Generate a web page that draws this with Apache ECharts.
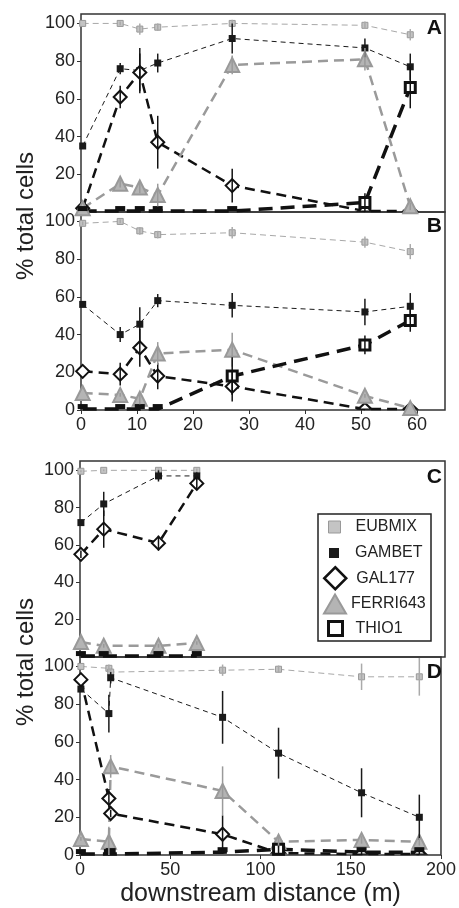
<!DOCTYPE html>
<html>
<head>
<meta charset="utf-8">
<script src="https://cdn.jsdelivr.net/npm/echarts@6/dist/echarts.min.js"></script>
<style>
  html, body { margin: 0; padding: 0; background: #fff; }
  #chart { width: 459px; height: 908px; }
</style>
</head>
<body>
<div id="chart"></div>
<script>
// probe names, same order in every panel
var probes = ['EUBMIX', 'GAMBET', 'GAL177', 'FERRI643', 'THIO1'];

// panel A
var aX = [0.3, 7, 10.5, 13.7, 27, 50.7, 58.8];
var aEub = [100, 100, 97, 98, 100, 99, 94];
var aEubErr = [0, 1, 3, 2, 2, 2, 3];
var aGam = [35, 76, 75, 79, 92, 87, 77];
var aGamErr = [0, 3, 12, 5, 8, 5, 7];
var aGal = [2, 61, 74, 37, 14, 0.5, 0.5];
var aGalErr = [0, 6, 10, 14, 9, 0, 0];
var aFer = [2, 15, 13, 9, 78, 81, 3];
var aFerErr = [0, 2, 3, 6, 5, 6, 2];
var aThi = [0.5, 0.5, 0.5, 0.5, 0.5, 5, 66];
var aThiErr = [0, 0, 0, 0, 0, 5, 11];

// panel B
var bX = [0.3, 7, 10.5, 13.7, 27, 50.7, 58.8];
var bEub = [99, 100, 95, 93, 94, 89, 84];
var bEubErr = [1, 1, 2, 2, 3, 3, 4];
var bGam = [56, 40, 45.5, 58, 55.5, 52, 55];
var bGamErr = [0, 4, 9, 3.5, 6.5, 7, 7];
var bGal = [20.5, 19, 33, 18, 12.5, 0.5, 0.5];
var bGalErr = [0, 6, 10, 7, 8, 0, 0];
var bFer = [9, 8, 6, 30, 32, 7.5, 1];
var bFerErr = [0, 1, 3, 6, 9, 1, 0];
var bThi = [0.5, 0.5, 0.5, 0.5, 18, 34.5, 47.5];
var bThiErr = [0, 0, 0, 0, 10, 5, 6];

// panel C
var cX = [0.5, 13, 43, 64];
var cEub = [99.5, 100, 100, 100];
var cEubErr = [0.5, 0.5, 1, 1];
var cGam = [72, 82, 97, 97];
var cGamErr = [0, 6.5, 3, 2];
var cGal = [55, 68.5, 61, 93];
var cGalErr = [2, 10, 4, 3];
var cFer = [8, 6, 6, 7.5];
var cFerErr = [0, 1, 1, 1];
var cThi = [0.5, 0.5, 0.5, 0.5];
var cThiErr = [0, 0, 0, 0];

// panel D
var dX = [0.5, 16, 17, 79, 110, 156, 188];
var dEub = [100, 99, 97, 98, 98.5, 94.5, 94.5];
var dEubErr = [0, 2, 1, 3, 2, 7, 10];
var dGam = [88, 75, 94, 73, 54, 33, 20];
var dGamErr = [0, 10, 3, 14, 13.5, 13, 12];
var dGal = [93, 30, 22, 11, 1, 0.5, 0.5];
var dGalErr = [0, 5, 2, 10, 0, 0, 0];
var dFer = [8.5, 7, 47, 34, 7, 8, 7];
var dFerErr = [1, 8, 6, 13, 3, 2, 2];
var dThi = [0.5, 0.5, 1, 1.5, 3, 1.5, 1.5];
var dThiErr = [0, 0, 0, 0, 2, 1, 1];

var yTicksFull = [0, 20, 40, 60, 80, 100];
var yTicksNoZero = [20, 40, 60, 80, 100];
var xTicksAB = [0, 10, 20, 30, 40, 50, 60];
var xTicksCD = [0, 50, 100, 150, 200];

var FONT = "'Liberation Sans', Arial, sans-serif";

// marker / line look of each probe; "half" = marker sitting on the axis, cut by the frame
var looks = {
  EUBMIX:   { symbol: 'rect', size: 6, fill: '#c4c4c4', border: '#999', bw: 1, line: '#a8a8a8', lw: 1, dash: [6, 4], err: '#aaa' },
  GAMBET:   { symbol: 'rect', size: 7, fill: '#1a1a1a', border: '#1a1a1a', bw: 0, line: '#1a1a1a', lw: 1, dash: [5, 4], err: '#1a1a1a' },
  GAL177:   { symbol: 'diamond', size: 13, fill: '#fff', border: '#111', bw: 2, line: '#111', lw: 2.5, dash: [10, 6], err: '#111',
              half: { symbol: 'triangle', size: [13, 6], fill: '#fff', border: '#111', bw: 2 } },
  FERRI643: { symbol: 'triangle', size: 14, fill: '#b4b4b4', border: '#999', bw: 2, line: '#9a9a9a', lw: 2.5, dash: [10, 6], err: '#9a9a9a' },
  THIO1:    { symbol: 'rect', size: 10, fill: '#fff', border: '#111', bw: 3, line: '#111', lw: 3.5, dash: [14, 8], err: '#111',
              half: { symbol: 'rect', size: [10, 5], fill: '#111', border: '#111', bw: 0 } }
};

function errRender(color) {
  return function (params, api) {
    var p1 = api.coord([api.value(0), api.value(1)]);
    var p2 = api.coord([api.value(0), api.value(2)]);
    return {
      type: 'line',
      shape: { x1: p1[0], y1: p1[1], x2: p2[0], y2: p2[1] },
      style: { stroke: color, lineWidth: 1.5 }
    };
  };
}

function point(lk, x, y) {
  if (lk.half && y < 2) {
    return {
      value: [x, y],
      symbol: lk.half.symbol,
      symbolSize: lk.half.size,
      symbolOffset: [0, -lk.half.size[1] / 2],
      itemStyle: { color: lk.half.fill, borderColor: lk.half.border, borderWidth: lk.half.bw }
    };
  }
  return [x, y];
}

function panelSeries(g, xs, vals, errs) {
  var out = [];
  probes.forEach(function (name, k) {
    var lk = looks[name];
    out.push({
      name: name,
      type: 'line',
      xAxisIndex: g,
      yAxisIndex: g,
      data: xs.map(function (x, i) { return point(lk, x, vals[k][i]); }),
      symbol: lk.symbol,
      symbolSize: lk.size,
      itemStyle: { color: lk.fill, borderColor: lk.border, borderWidth: lk.bw },
      lineStyle: { color: lk.line, width: lk.lw, type: lk.dash },
      emphasis: { disabled: true },
      z: 2
    });
  });
  probes.forEach(function (name, k) {
    var bars = [];
    xs.forEach(function (x, i) {
      if (errs[k][i] > 0) {
        bars.push([x, Math.max(0, vals[k][i] - errs[k][i]), vals[k][i] + errs[k][i]]);
      }
    });
    out.push({
      name: name,
      type: 'custom',
      xAxisIndex: g,
      yAxisIndex: g,
      data: bars,
      encode: { x: 0, y: [1, 2] },
      renderItem: errRender(looks[name].err),
      silent: true,
      z: 3
    });
  });
  return out;
}

var grids = [
  { left: 81, right: 14, top: 14, height: 198 },
  { left: 81, right: 14, top: 212, height: 198 },
  { left: 80, right: 14, top: 461, height: 196 },
  { left: 80, right: 14, top: 657, height: 199 }
].map(function (g) {
  g.show = true;
  g.borderColor = '#333';
  g.borderWidth = 1.5;
  g.backgroundColor = 'transparent';
  return g;
});

function xAxisFor(g, max, ticks, showLabels) {
  return {
    type: 'value', gridIndex: g, min: 0, max: max,
    axisLine: { show: false },
    splitLine: { show: false },
    axisTick: { show: showLabels, length: 4, customValues: ticks, lineStyle: { color: '#333', width: 1 } },
    axisLabel: { show: showLabels, customValues: ticks, fontSize: 18, color: '#222', fontFamily: FONT, margin: 6 }
  };
}

function yAxisFor(g, ticks) {
  return {
    type: 'value', gridIndex: g, min: 0, max: 105,
    axisLine: { show: false },
    splitLine: { show: false },
    axisTick: { show: true, length: 4, customValues: ticks, lineStyle: { color: '#333', width: 1 } },
    axisLabel: { customValues: ticks, fontSize: 18, color: '#222', fontFamily: FONT, margin: 6 }
  };
}

var xAxes = [
  xAxisFor(0, 65, xTicksAB, false),
  xAxisFor(1, 65, xTicksAB, true),
  xAxisFor(2, 200, xTicksCD, false),
  xAxisFor(3, 200, xTicksCD, true)
];
xAxes[3].name = 'downstream distance (m)';
xAxes[3].nameLocation = 'middle';
xAxes[3].nameGap = 27;
xAxes[3].nameTextStyle = { fontSize: 25, color: '#222', fontFamily: FONT };

var yAxes = [
  yAxisFor(0, yTicksNoZero),
  yAxisFor(1, yTicksFull),
  yAxisFor(2, yTicksNoZero),
  yAxisFor(3, yTicksFull)
];

var series = []
  .concat(panelSeries(0, aX, [aEub, aGam, aGal, aFer, aThi], [aEubErr, aGamErr, aGalErr, aFerErr, aThiErr]))
  .concat(panelSeries(1, bX, [bEub, bGam, bGal, bFer, bThi], [bEubErr, bGamErr, bGalErr, bFerErr, bThiErr]))
  .concat(panelSeries(2, cX, [cEub, cGam, cGal, cFer, cThi], [cEubErr, cGamErr, cGalErr, cFerErr, cThiErr]))
  .concat(panelSeries(3, dX, [dEub, dGam, dGal, dFer, dThi], [dEubErr, dGamErr, dGalErr, dFerErr, dThiErr]));

// one legend per row so each icon can have its own size
var legendRows = [
  { name: 'EUBMIX', icon: 'rect', w: 12, h: 12, y: 527, pad: 10, bw: 1 },
  { name: 'GAMBET', icon: 'rect', w: 10, h: 10, y: 553, pad: 11, bw: 0 },
  { name: 'GAL177', icon: 'diamond', w: 22, h: 22, y: 577, pad: 5, bw: 2.5 },
  { name: 'FERRI643', icon: 'triangle', w: 22, h: 19, y: 603, pad: 0, bw: 2 },
  { name: 'THIO1', icon: 'rect', w: 14, h: 14, y: 628, pad: 8, bw: 3 }
];
var legends = legendRows.map(function (r) {
  var lk = looks[r.name];
  return {
    data: [{ name: r.name, icon: r.icon }],
    left: 334 - r.w / 2,
    top: r.y - Math.max(r.h / 2, 8),
    padding: 0,
    itemWidth: r.w,
    itemHeight: r.h,
    selectedMode: false,
    itemStyle: { color: lk.fill, borderColor: lk.border, borderWidth: r.bw },
    textStyle: { fontSize: 16, lineHeight: 16, color: '#222', fontFamily: FONT, padding: [0, 0, 0, r.pad] }
  };
});

var panelLetters = [['A', 28.5], ['B', 226.5], ['C', 477], ['D', 672.5]];
var graphics = [
  { type: 'rect', shape: { x: 318, y: 514, width: 113, height: 127 }, style: { fill: '#fff', stroke: '#222', lineWidth: 1.5 }, z: 1 },
  { type: 'text', x: 26, y: 216, rotation: Math.PI / 2, style: { text: '% total cells', fontSize: 24, fontFamily: FONT, fill: '#222', align: 'center', verticalAlign: 'middle' } },
  { type: 'text', x: 26, y: 662, rotation: Math.PI / 2, style: { text: '% total cells', fontSize: 24, fontFamily: FONT, fill: '#222', align: 'center', verticalAlign: 'middle' } }
];
panelLetters.forEach(function (p) {
  graphics.push({
    type: 'text', x: 442, y: p[1], z: 5,
    style: { text: p[0], fontSize: 21, fontWeight: 'bold', fontFamily: FONT, fill: '#111', align: 'right', verticalAlign: 'middle' }
  });
});

var chart = echarts.init(document.getElementById('chart'));
chart.setOption({
  animation: false,
  backgroundColor: '#fff',
  grid: grids,
  xAxis: xAxes,
  yAxis: yAxes,
  legend: legends,
  graphic: graphics,
  series: series
});
</script>
</body>
</html>
